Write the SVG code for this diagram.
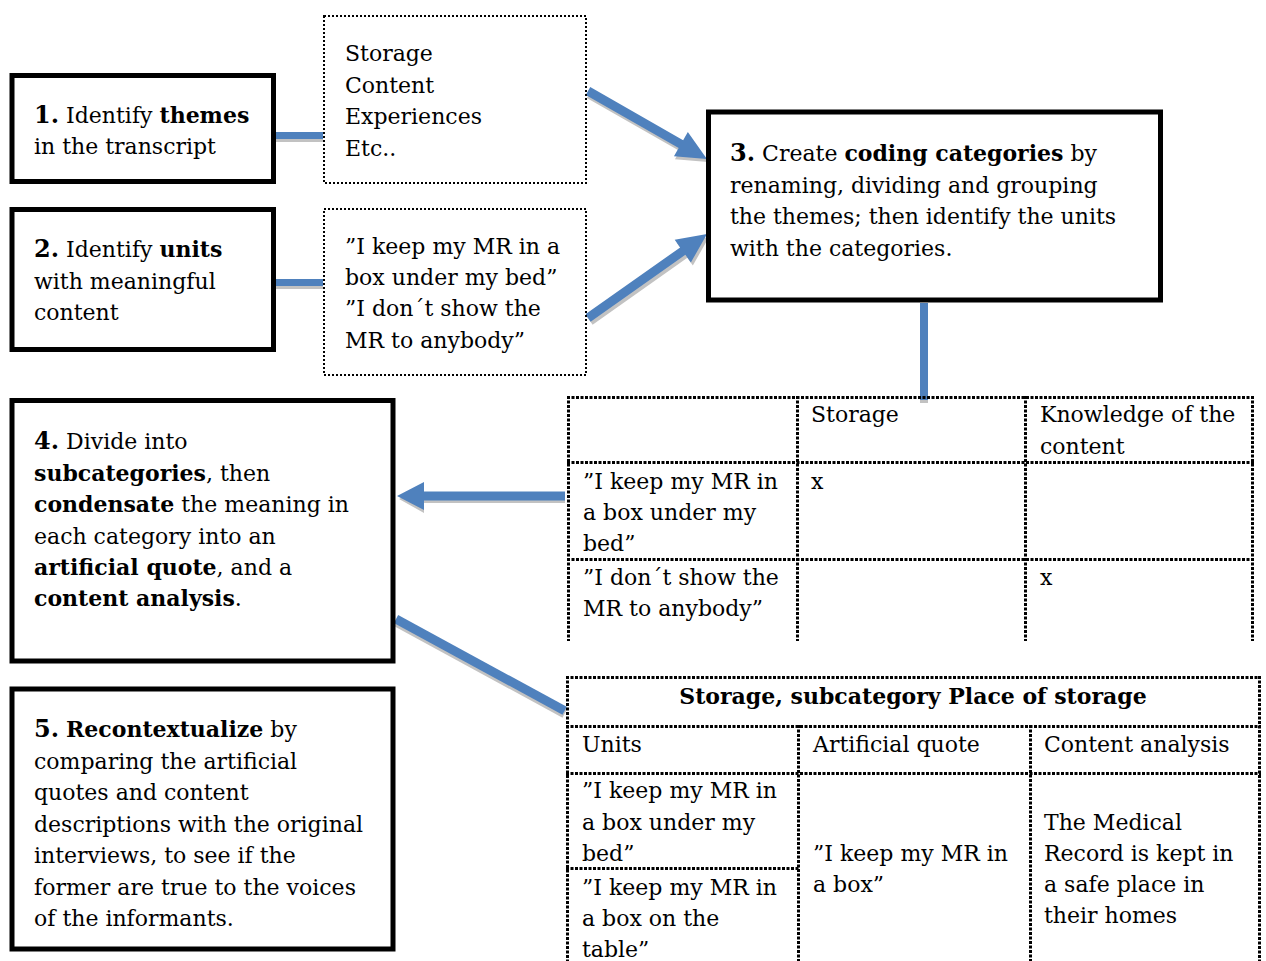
<svg xmlns="http://www.w3.org/2000/svg" width="1266" height="961" viewBox="0 0 1266 961">
<style>
text{font-family:"DejaVu Serif","Liberation Serif",serif;font-size:22px;fill:#000}
.b{font-weight:bold}
.n{font-weight:bold;font-size:24px}
.box{fill:#fff;stroke:#000;stroke-width:5}
.dbox{fill:#fff;stroke:#000;stroke-width:2;stroke-dasharray:2 2}
.tl{stroke:#000;stroke-width:3;stroke-dasharray:3 1.5;fill:none}
.arr{fill:#4f81bd}
.sh{fill:#c2c2c2}
</style>
<rect width="1266" height="961" fill="#fff"/>

<g id="connectors">
  <rect class="sh" x="276" y="135" width="47" height="7"/>
  <rect class="arr" x="276" y="132" width="47" height="7"/>
  <rect class="sh" x="276" y="282" width="47" height="7"/>
  <rect class="arr" x="276" y="279" width="47" height="7"/>
  <path class="sh" transform="translate(589,94) rotate(29.74)" d="M0,-4.5 L107,-4.5 L107,-14 L137,0 L107,14 L107,4.5 L0,4.5 Z"/>
  <path class="arr" transform="translate(588,91) rotate(29.74)" d="M0,-4.5 L107,-4.5 L107,-14 L137,0 L107,14 L107,4.5 L0,4.5 Z"/>
  <path class="sh" transform="translate(590,321) rotate(-35.22)" d="M0,-4.5 L116,-4.5 L116,-14 L145.7,0 L116,14 L116,4.5 L0,4.5 Z"/>
  <path class="arr" transform="translate(588,318) rotate(-35.22)" d="M0,-4.5 L116,-4.5 L116,-14 L145.7,0 L116,14 L116,4.5 L0,4.5 Z"/>
  <rect class="sh" x="920" y="306" width="8" height="97"/>
  <rect class="arr" x="920" y="303" width="8" height="97"/>
  <path class="sh" d="M565,495 L424,495 L424,485 L399,499 L424,513 L424,503 L565,503 Z"/>
  <path class="arr" d="M565,491.5 L424,491.5 L424,482 L397,496 L424,510 L424,500.5 L565,500.5 Z"/>
  <path class="sh" transform="translate(396,622) rotate(28.56)" d="M0,-4.5 L192,-4.5 L192,4.5 L0,4.5 Z"/>
  <path class="arr" transform="translate(396,619) rotate(28.56)" d="M0,-4.5 L192,-4.5 L192,4.5 L0,4.5 Z"/>
</g>

<g id="box1">
  <rect class="box" x="12" y="75.5" width="261.5" height="106"/>
  <text x="34" y="123"><tspan class="n">1.</tspan> Identify <tspan class="b">themes</tspan></text>
  <text x="34" y="154">in the transcript</text>
</g>

<g id="box2">
  <rect class="box" x="12" y="209.5" width="261.5" height="140"/>
  <text x="34" y="257"><tspan class="n">2.</tspan> Identify <tspan class="b">units</tspan></text>
  <text x="34" y="289">with meaningful</text>
  <text x="34" y="320">content</text>
</g>

<g id="listA">
  <rect class="dbox" x="324" y="16" width="262" height="167"/>
  <text x="345" y="61">Storage</text>
  <text x="345" y="93">Content</text>
  <text x="345" y="124">Experiences</text>
  <text x="345" y="156">Etc..</text>
</g>

<g id="listB">
  <rect class="dbox" x="324" y="209" width="262" height="166"/>
  <text x="345" y="254">”I keep my MR in a</text>
  <text x="345" y="285">box under my bed”</text>
  <text x="345" y="316">”I don´t show the</text>
  <text x="345" y="348">MR to anybody”</text>
</g>

<g id="box3">
  <rect class="box" x="708.5" y="112" width="452" height="188"/>
  <text x="730" y="161"><tspan class="n">3.</tspan> Create <tspan class="b">coding categories</tspan> by</text>
  <text x="730" y="193">renaming, dividing and grouping</text>
  <text x="730" y="224">the themes; then identify the units</text>
  <text x="730" y="256">with the categories.</text>
</g>

<g id="box4">
  <rect class="box" x="12" y="400.5" width="381" height="260.5"/>
  <text x="34" y="449"><tspan class="n">4.</tspan> Divide into</text>
  <text x="34" y="481"><tspan class="b">subcategories</tspan>, then</text>
  <text x="34" y="512"><tspan class="b">condensate</tspan> the meaning in</text>
  <text x="34" y="544">each category into an</text>
  <text x="34" y="575"><tspan class="b">artificial quote</tspan>, and a</text>
  <text x="34" y="606"><tspan class="b">content analysis</tspan>.</text>
</g>

<g id="box5">
  <rect class="box" x="12" y="689" width="381" height="260"/>
  <text x="34" y="737"><tspan class="n">5.</tspan> <tspan class="b">Recontextualize</tspan> by</text>
  <text x="34" y="769">comparing the artificial</text>
  <text x="34" y="800">quotes and content</text>
  <text x="34" y="832">descriptions with the original</text>
  <text x="34" y="863">interviews, to see if the</text>
  <text x="34" y="895">former are true to the voices</text>
  <text x="34" y="926">of the informants.</text>
</g>

<g id="table1">
  <path class="tl" d="M567,397.5 H1254 M567,462.5 H1254 M567,559.5 H1254 M568.5,396 V641 M797.5,396 V641 M1025.5,396 V641 M1252.5,396 V641"/>
  <text x="811" y="422">Storage</text>
  <text x="1040" y="422">Knowledge of the</text>
  <text x="1040" y="454">content</text>
  <text x="583" y="489">”I keep my MR in</text>
  <text x="583" y="520">a box under my</text>
  <text x="583" y="551">bed”</text>
  <text x="811" y="489">x</text>
  <text x="583" y="585">”I don´t show the</text>
  <text x="583" y="616">MR to anybody”</text>
  <text x="1040" y="585">x</text>
</g>

<g id="table2">
  <path class="tl" d="M566,677.5 H1261 M566,726.5 H1261 M566,773.5 H1261 M566,868.5 H799 M567.5,676 V961 M798.5,725 V961 M1030.5,725 V961 M1259.5,676 V961"/>
  <text class="b" x="913" y="704" text-anchor="middle">Storage, subcategory Place of storage</text>
  <text x="582" y="752">Units</text>
  <text x="813" y="752">Artificial quote</text>
  <text x="1044" y="752">Content analysis</text>
  <text x="582" y="798">”I keep my MR in</text>
  <text x="582" y="830">a box under my</text>
  <text x="582" y="861">bed”</text>
  <text x="582" y="895">”I keep my MR in</text>
  <text x="582" y="926">a box on the</text>
  <text x="582" y="957">table”</text>
  <text x="813" y="861">”I keep my MR in</text>
  <text x="813" y="892">a box”</text>
  <text x="1044" y="830">The Medical</text>
  <text x="1044" y="861">Record is kept in</text>
  <text x="1044" y="892">a safe place in</text>
  <text x="1044" y="923">their homes</text>
</g>
</svg>
